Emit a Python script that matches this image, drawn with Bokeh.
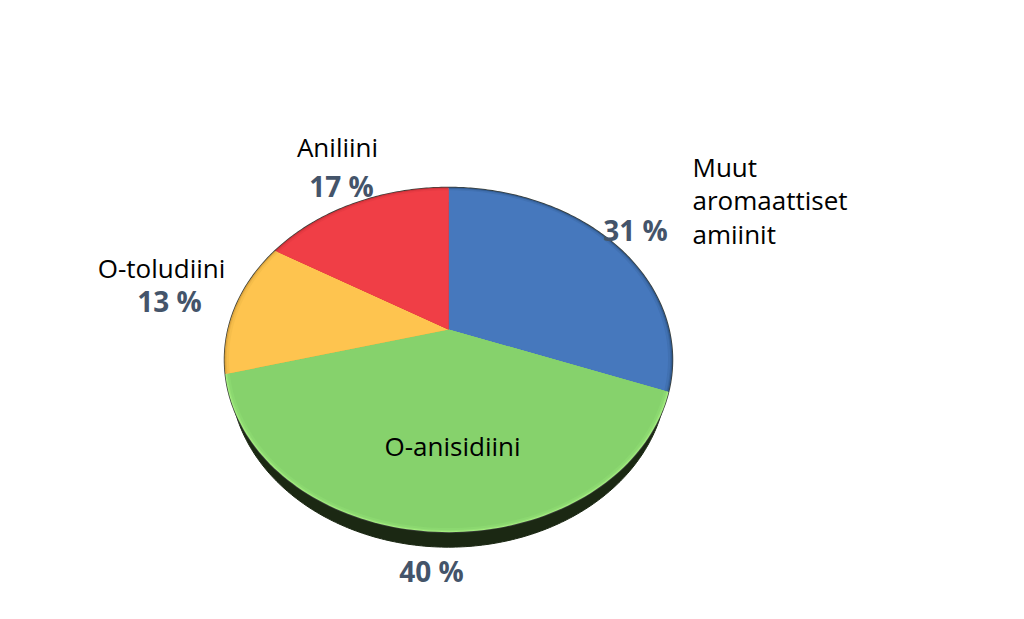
from math import pi, cos, sin
from bokeh.plotting import figure
from bokeh.models import Range1d
from bokeh.core.properties import value
from bokeh.embed import file_html
from bokeh.resources import INLINE

categories = ["Muut aromaattiset amiinit", "O-anisidiini", "O-toludiini", "Aniliini"]
shares = [30.7, 40.2, 12.7, 16.4]      # slice sizes
percent_labels = ["31 %", "40 %", "13 %", "17 %"]
colors = ["#4678bd", "#86d26c", "#fec44f", "#f03e46"]
edge_colors = ["#2f5688", "#a4ee80", "#d9a23c", "#c93138"]

# perspective disc: apex at data origin, screen = data (1:1 px)
A, B, K, DEPTH = 220.5, 167.0, 0.176, 15.0


def rim_point(frac, scale=1.0):
    t = pi / 2 - 2 * pi * frac
    w = 1 + K * sin(t)
    return A * scale * cos(t) / w, B * scale * sin(t) / w


def slice_path(f0, f1, scale=1.0):
    n = max(2, int((f1 - f0) * 240))
    pts = [rim_point(f0 + (f1 - f0) * i / n, scale) for i in range(n + 1)]
    return [0.0] + [q[0] for q in pts], [0.0] + [q[1] for q in pts]


total = sum(shares)
bounds = [sum(shares[:i]) / total for i in range(len(shares) + 1)]

p = figure(width=1008, height=603, output_backend="svg", toolbar_location=None,
           x_range=Range1d(-448, 560), y_range=Range1d(-274, 329),
           min_border=0, outline_line_color=None, background_fill_color="white")
p.axis.visible = False
p.grid.visible = False

# side wall, narrowed a little so that it tapers out before the widest points
full = [rim_point(i / 480) for i in range(481)]
p.patch([q[0] * 0.975 for q in full], [q[1] - DEPTH for q in full],
        fill_color="#1b2813", line_color="#1b2813", line_width=1)
# thin dark outline of the disc
p.line([q[0] for q in full], [q[1] for q in full], line_color="#3a3f3a", line_width=1.5)

# slices: edge shade, blending into the flat colour
for i in range(len(shares)):
    xs, ys = slice_path(bounds[i], bounds[i + 1], 1.0)
    p.patch(xs, ys, fill_color=edge_colors[i], line_color=None)
    for s, a in ((0.995, 0.5), (0.99, 0.6), (0.98, 1.0)):
        xs, ys = slice_path(bounds[i], bounds[i + 1], s)
        p.patch(xs, ys, fill_color=colors[i], fill_alpha=a, line_color=None)


def sx(v):
    return v - 448


def sy(v):
    return 329 - v


FONT = "Open Sans"
names = [("Muut", 692, 166), ("aromaattiset", 692, 199), ("amiinit", 692, 233)]
for t, x, y in names:
    p.text([sx(x)], [sy(y)], text=[t], text_font=value(FONT), text_font_size="26px",
           text_color="#000000", text_align="left", text_baseline="alphabetic")
for t, x, y in [("Aniliini", 337, 146), ("O-toludiini", 161, 267), ("O-anisidiini", 452, 445)]:
    p.text([sx(x)], [sy(y)], text=[t], text_font=value(FONT), text_font_size="26px",
           text_color="#000000", text_align="center", text_baseline="alphabetic")
for t, x, y in [(percent_labels[0], 635, 229), (percent_labels[1], 431, 570),
                (percent_labels[2], 169, 300), (percent_labels[3], 341, 185)]:
    p.text([sx(x)], [sy(y)], text=[t], text_font=value(FONT), text_font_style="bold",
           text_font_size="28px", text_color="#44546a", text_align="center",
           text_baseline="alphabetic")

open("out.html", "w").write(file_html(p, INLINE))
